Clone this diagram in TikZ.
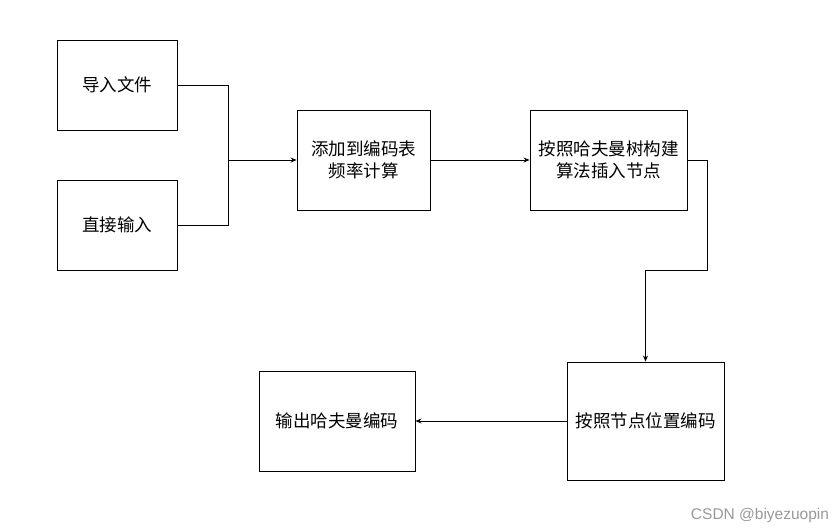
\documentclass[tikz,border=0pt]{standalone}
\usepackage{fontspec}
\setmainfont{Liberation Sans}
\newfontfamily\cjk{Noto Sans CJK SC}
\usetikzlibrary{arrows.meta, calc}

\begin{document}
\begin{tikzpicture}[x=1pt, y=-1pt,
        flowbox/.style={draw, line width=0.9pt, inner sep=0pt, align=center,
            font=\cjk\fontsize{17.5}{22}\selectfont},
        link/.style={line width=0.9pt},
        linkarrow/.style={link, -{Stealth[length=6pt, width=5pt]}}]
        \useasboundingbox (0,0) rectangle (840,532);

        \node[flowbox, minimum width=120, minimum height=90] (import) at (117,85) {导入文件};
        \node[flowbox, minimum width=120, minimum height=90] (direct) at (117,225) {直接输入};
        \node[flowbox, minimum width=133, minimum height=100] (table) at (363.5,160) {添加到编码表\\频率计算};
        \node[flowbox, minimum width=157, minimum height=100] (build) at (608.5,160) {按照哈夫曼树构建\\算法插入节点};
        \node[flowbox, minimum width=157, minimum height=118] (encode) at (645.5,421) {按照节点位置编码};
        \node[flowbox, minimum width=156, minimum height=100] (output) at (337,421) {输出哈夫曼编码};

        \coordinate (join) at (228,160);
        \draw[link] (import.east) -| (join);
        \draw[link] (direct.east) -| (join);
        \draw[linkarrow] (join) -- (table.west);
        \draw[linkarrow] (table.east) -- (build.west);
        \draw[linkarrow] (build.east) -- (707,160) -- (707,270) -- (645.5,270) -- (encode.north);
        \draw[linkarrow] (encode.west) -- (output.east);

        \node[text=gray!80, font=\fontsize{15.5}{18}\selectfont] (mark) at (760,515) {CSDN @biyezuopin};
    \end{tikzpicture}
\end{document}
